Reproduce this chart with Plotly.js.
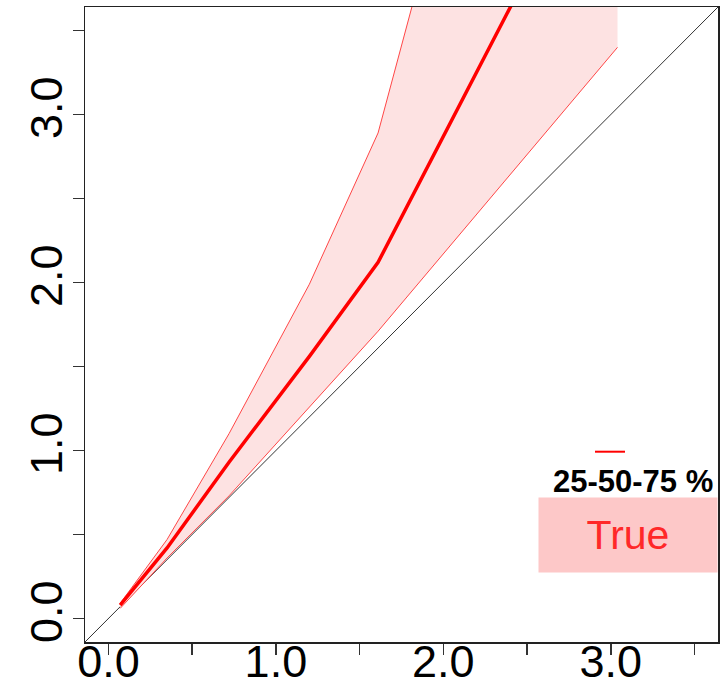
<!DOCTYPE html>
<html>
<head>
<meta charset="utf-8">
<script src="https://cdn.plot.ly/plotly-3.0.1.min.js"></script>
<style>
  html, body { margin: 0; padding: 0; background: #ffffff; }
  #chart { width: 724px; height: 692px; }
</style>
</head>
<body>
<div id="chart"></div>
<script>
// True values on the x axis and the 25/50/75 % quantiles of the estimates
const xTrue = [0.07, 0.35, 0.72, 1.20, 1.61, 3.04];
const q25   = [0.06, 0.36, 0.73, 1.26, 1.71, 3.40];
const q50   = [0.08, 0.42, 0.93, 1.56, 2.12, 4.87];
const q75   = [0.09, 0.47, 1.10, 1.99, 2.89, 8.20];

// Shared axis range and tick marks (labels only on whole numbers)
const axisRange = [-0.14, 3.64];
const tickVals  = [0, 0.5, 1, 1.5, 2, 2.5, 3, 3.5];
const tickText  = ['0.0', '', '1.0', '', '2.0', '', '3.0', ''];

const legendTitle = '25-50-75 %';
const legendLabel = 'True';

const FONT = 'Liberation Sans, Arial, sans-serif';
const RED = 'rgb(255,0,0)';
const THIN_RED = 'rgb(255,70,70)';
const BAND = 'rgb(253,226,226)';

// plot-area geometry in pixels, used to place the hand-built legend
const M = { l: 85, r: 6, t: 7, b: 50 };
const W = 724, H = 692;
const PW = W - M.l - M.r, PH = H - M.t - M.b;
const px = v => (v - M.l) / PW;
const py = v => (H - M.b - v) / PH;

const traces = [
  // identity line y = x across the full axis range
  {
    x: axisRange, y: axisRange,
    mode: 'lines', line: { color: '#333333', width: 1 },
    hoverinfo: 'skip', showlegend: false
  },
  // lower quartile
  {
    x: xTrue, y: q25,
    mode: 'lines', line: { color: THIN_RED, width: 1 },
    showlegend: false
  },
  // upper quartile, shaded down to the lower quartile
  {
    x: xTrue, y: q75,
    mode: 'lines', line: { color: THIN_RED, width: 1 },
    fill: 'tonexty', fillcolor: BAND,
    showlegend: false
  },
  // median
  {
    x: xTrue, y: q50,
    mode: 'lines', line: { color: RED, width: 3.5 },
    showlegend: false
  }
];

const axisCommon = {
  range: axisRange,
  showgrid: false,
  zeroline: false,
  showline: true,
  mirror: true,
  linecolor: '#222222',
  linewidth: 1.5,
  ticks: 'outside',
  ticklen: 11,
  tickwidth: 1.5,
  tickcolor: '#333333',
  tickmode: 'array',
  tickvals: tickVals,
  ticktext: tickText,
  tickfont: { family: FONT, size: 45, color: '#000000' }
};

const layout = {
  width: W,
  height: H,
  margin: { l: M.l, r: M.r, t: M.t, b: M.b, pad: 0 },
  paper_bgcolor: '#ffffff',
  plot_bgcolor: '#ffffff',
  showlegend: false,
  xaxis: Object.assign({}, axisCommon, { ticklabelstandoff: -32 }),
  yaxis: Object.assign({}, axisCommon, { tickangle: -90, ticklabelstandoff: -7 }),
  shapes: [
    // legend key: short red line
    {
      type: 'line', xref: 'paper', yref: 'paper',
      x0: px(595), x1: px(625),
      y0: py(451.7), y1: py(451.7),
      line: { color: RED, width: 2 }
    }
  ],
  annotations: [
    {
      xref: 'paper', yref: 'paper',
      x: px(632.5), y: py(481.5),
      xanchor: 'center', yanchor: 'middle',
      text: '<b>' + legendTitle + '</b>', showarrow: false,
      font: { family: FONT, size: 31, color: '#000000' }
    },
    {
      xref: 'paper', yref: 'paper',
      x: px(628), y: py(535),
      xanchor: 'center', yanchor: 'middle',
      width: 176, height: 72,
      bgcolor: 'rgb(253,200,200)',
      text: legendLabel, showarrow: false,
      font: { family: FONT, size: 41, color: 'rgb(255,40,40)' }
    }
  ]
};

Plotly.newPlot('chart', traces, layout, { displayModeBar: false, staticPlot: true });
</script>
</body>
</html>
